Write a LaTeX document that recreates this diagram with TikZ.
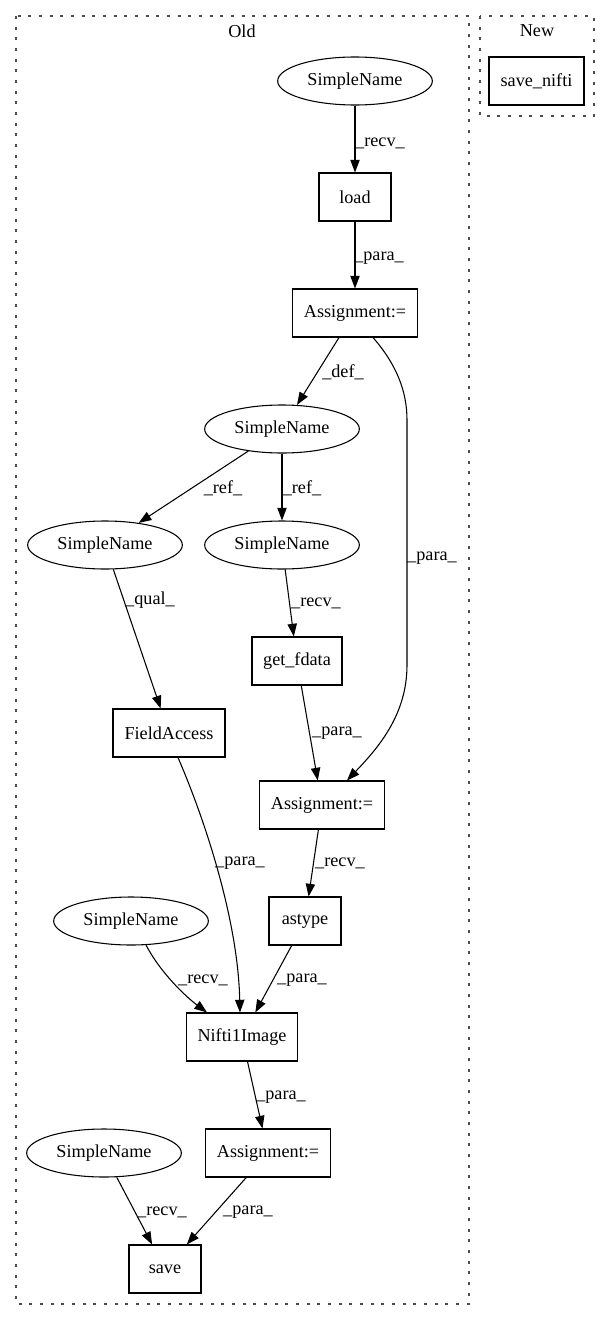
\documentclass[tikz,border=0pt]{standalone}
\usepackage{fontspec}
\setmainfont{Liberation Serif}
\usetikzlibrary{arrows.meta,calc,shapes.geometric}
\begin{document}
\begin{tikzpicture}[x=0.75pt,y=-0.75pt,
  every node/.style={font=\fontsize{13.65}{16}\selectfont},
  boxnode/.style={draw, line width=0.8pt, rectangle, inner sep=0pt, minimum height=36pt},
  ellnode/.style={draw, line width=0.8pt, ellipse, inner sep=0pt, minimum width=116pt, minimum height=36pt},
  lbl/.style={inner sep=0pt},
  conn/.style={line width=0.8pt, -{Triangle[length=9.5pt,width=7pt]}},
  cluster/.style={line width=0.9pt, dash pattern=on 2.2pt off 5.8pt, draw=black!70}]
\useasboundingbox (0,0) rectangle (609,1320);
\fill[white] (0,0) rectangle (609,1320);

% clusters
\draw[cluster] (16,16) rectangle (469,1304);
\draw[cluster] (480,16) rectangle (594,116);
\node[lbl] (oldlbl) at (242,31) {Old};
\node[lbl] (newlbl) at (537,31) {New};

% nodes
\node[ellnode] (sn1) at (355,81) {SimpleName};
\node[boxnode, minimum width=54pt] (load) at (355,197) {load};
\node[boxnode, minimum width=93.75pt] (asg1) at (355,313) {Assignment:=};
\node[ellnode] (sn2) at (282,429) {SimpleName};
\node[ellnode] (sn3) at (105,545) {SimpleName};
\node[ellnode] (sn4) at (282,545) {SimpleName};
\node[boxnode, minimum width=67.5pt] (getf) at (297,661) {get\_fdata};
\node[boxnode, minimum width=84pt] (fa) at (169,733) {FieldAccess};
\node[boxnode, minimum width=93.75pt] (asg2) at (322,805) {Assignment:=};
\node[boxnode, minimum width=54pt] (astype) at (305,921) {astype};
\node[ellnode] (sn5) at (131,921) {SimpleName};
\node[boxnode, minimum width=83.25pt] (nifti) at (242,1037) {Nifti1Image};
\node[boxnode, minimum width=93.75pt] (asg3) at (268,1153) {Assignment:=};
\node[ellnode] (sn6) at (104,1153) {SimpleName};
\node[boxnode, minimum width=54pt] (save) at (165,1269) {save};
\node[boxnode, minimum width=71.25pt] (savenifti) at (536.5,81) {save\_nifti};

% connectors
\draw[conn] (sn1) -- (load);
\draw[conn] (load) -- (asg1);
\draw[conn] ($(asg1.south)+(-16,0)$) -- (sn2);
\draw[conn] ($(asg1.south)+(18,0)$) .. controls (397,365) and (407,392) .. (407,420)
   -- (407,665) .. controls (407,715) and (378,748) .. ($(asg2.north)+(25,0)$);
\draw[conn] (sn2) -- (sn3);
\draw[conn] (sn2) -- (sn4);
\draw[conn] (sn3) -- (fa);
\draw[conn] (sn4) -- (getf);
\draw[conn] (getf) -- (asg2);
\draw[conn] ($(fa.south)+(9,0)$) .. controls (205,820) and (238,920) .. ($(nifti.north)+(-2,0)$);
\draw[conn] (asg2) -- (astype);
\draw[conn] (sn5.-58) .. controls (160,972) and (185,996) .. ($(nifti.north)+(-35,0)$);
\draw[conn] (astype) -- (nifti);
\draw[conn] (nifti) -- (asg3);
\draw[conn] (sn6) -- (save);
\draw[conn] (asg3) -- (save);

% edge labels
\node[lbl] (l1) at (380,143) {\_recv\_};
\node[lbl] (l2) at (379,258) {\_para\_};
\node[lbl] (l3) at (343,372) {\_def\_};
\node[lbl] (l4) at (432,558) {\_para\_};
\node[lbl] (l5) at (223,488) {\_ref\_};
\node[lbl] (l6) at (302,488) {\_ref\_};
\node[lbl] (l7) at (150,600) {\_qual\_};
\node[lbl] (l8) at (316,603) {\_recv\_};
\node[lbl] (l9) at (337,733) {\_para\_};
\node[lbl] (l10) at (240,863) {\_para\_};
\node[lbl] (l11) at (340,863) {\_recv\_};
\node[lbl] (l12) at (203,980) {\_recv\_};
\node[lbl] (l13) at (302,980) {\_para\_};
\node[lbl] (l14) at (281,1097) {\_para\_};
\node[lbl] (l15) at (162,1212) {\_recv\_};
\node[lbl] (l16) at (248,1212) {\_para\_};
\end{tikzpicture}
\end{document}
